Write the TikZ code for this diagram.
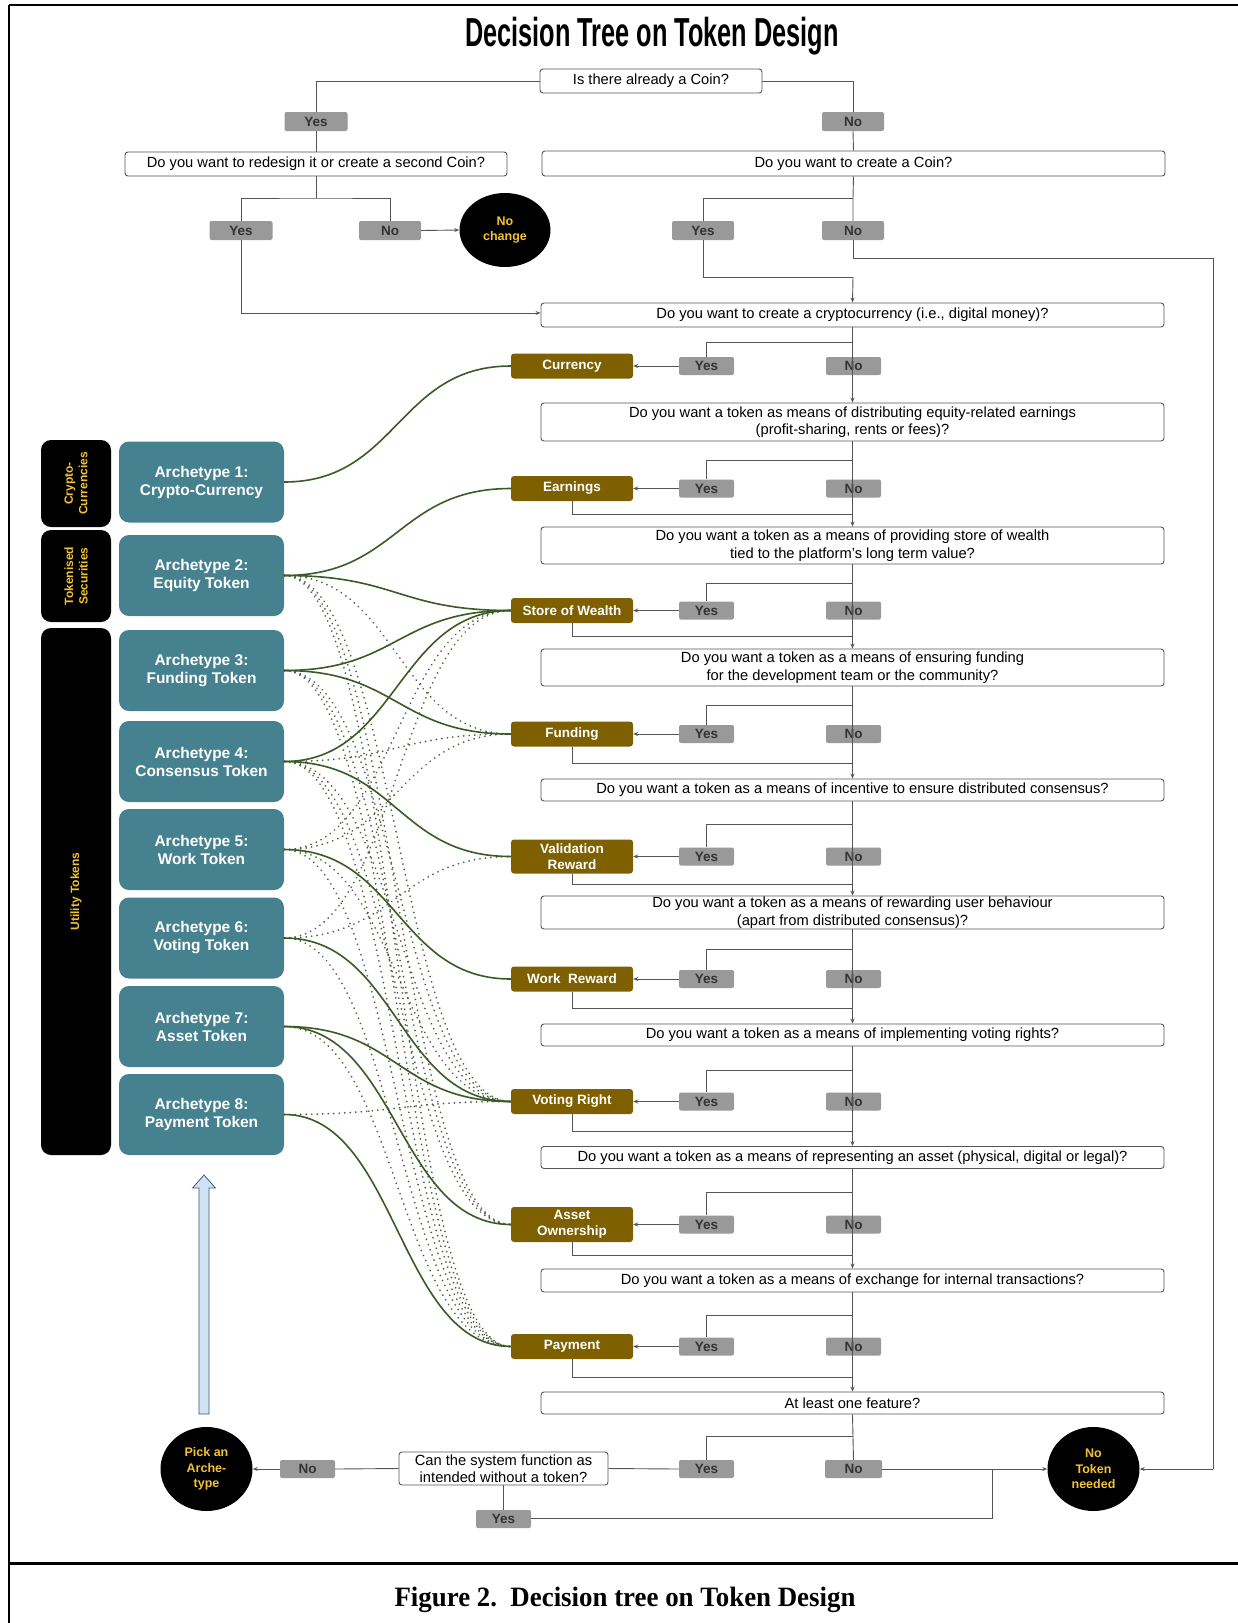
\documentclass[tikz,border=0pt]{standalone}
\usepackage{fontspec}
\setmainfont{Liberation Sans}
\newfontfamily\captionserif{Liberation Serif}
\usetikzlibrary{shapes.geometric,arrows.meta}
\definecolor{qline}{HTML}{555555}
\definecolor{ynfill}{HTML}{999999}
\definecolor{yntext}{HTML}{333333}
\definecolor{featfill}{HTML}{7F6000}
\definecolor{archfill}{HTML}{45818E}
\definecolor{gold}{HTML}{F1C232}
\definecolor{conn}{HTML}{3A5C24}
\definecolor{dotc}{HTML}{4C5A42}
\definecolor{bluefill}{HTML}{CFE2F3}
\definecolor{blueline}{HTML}{3D5A73}
\begin{document}
\begin{tikzpicture}[x=1pt,y=-1pt,
 qbox/.style={draw=qline, line width=0.9pt, rounded corners=3pt, fill=white, minimum width=623pt, minimum height=23pt, inner sep=0pt, align=center, font=\fontsize{14.7}{17.5}\selectfont},
 yn/.style={fill=ynfill, rounded corners=2pt, minimum width=55pt, minimum height=18pt, inner sep=0pt, font=\fontsize{13.5}{14}\selectfont\bfseries, text=yntext},
 feat/.style={fill=featfill, rounded corners=3pt, minimum width=122pt, minimum height=25pt, inner sep=0pt, align=center, text=white, font=\fontsize{13.5}{16}\selectfont\bfseries},
 arch/.style={fill=archfill, rounded corners=10pt, minimum width=165pt, minimum height=81pt, inner sep=0pt, align=center, text=white, font=\fontsize{15.5}{18}\selectfont\bfseries},
 cat/.style={fill=black, rounded corners=10pt, rotate=90, minimum height=70pt, inner sep=0pt, align=center, text=gold, font=\fontsize{12}{14.5}\selectfont\bfseries},
 term/.style={ellipse, fill=black, inner sep=0pt, align=center, text=gold, font=\fontsize{12.5}{15.5}\selectfont\bfseries},
 ln/.style={draw=qline, line width=0.9pt},
 arr/.style={ln, -{Stealth[length=5pt,width=4pt]}},
 mainc/.style={draw=conn, line width=1.6pt},
 minorc/.style={draw=dotc, line width=1.9pt, line cap=round, dash pattern=on 0.01pt off 5.5pt}
]
\useasboundingbox (0,0) rectangle (1238,1623);
\fill[white] (0,0) rectangle (1238,1623);
% frame
\draw[line width=1.5pt] (9,5) -- (1238,5);
\draw[line width=1.5pt] (9,5) -- (9,1623);
\draw[line width=3pt] (9,1563) -- (1238,1563);
% title and caption
\node[anchor=base, inner sep=0pt] (title) at (652,46) {\scalebox{0.625}[1]{\bfseries\fontsize{40.5}{40}\selectfont Decision Tree on Token Design}};
\node[anchor=base, inner sep=0pt] (caption) at (625,1606) {\scalebox{0.96}[1]{\captionserif\bfseries\fontsize{28}{28}\selectfont Figure 2.\ \ Decision tree on Token Design}};

% ---------- top part ----------
\node[qbox, minimum width=222pt, minimum height=24pt] (q0) at (651,81) {Is there already a Coin?};
\node[yn, minimum width=63pt, minimum height=19pt] (y0) at (316,121.5) {Yes};
\node[yn, minimum width=62pt, minimum height=19pt] (n0) at (853,121.5) {No};
\node[qbox, minimum width=382pt, minimum height=24pt] (qa) at (316,164) {Do you want to redesign it or create a second Coin?};
\node[qbox, minimum width=623pt, minimum height=25pt] (qb) at (853.5,163.5) {Do you want to create a Coin?};
\node[yn, minimum width=63pt, minimum height=19pt] (ya) at (241,230.5) {Yes};
\node[yn, minimum width=62pt, minimum height=19pt] (na) at (390,230.5) {No};
\node[term, minimum width=91pt, minimum height=74pt] (nochange) at (505,230) {No\\change};
\node[yn, minimum width=62pt, minimum height=19pt] (yb) at (703,230.5) {Yes};
\node[yn, minimum width=62pt, minimum height=19pt] (nb) at (853,230.5) {No};

\coordinate (t0l) at (316,81);
\coordinate (t0r) at (853,81);
\draw[ln] (q0.west) -- (t0l) -- (y0.north);
\draw[ln] (q0.east) -- (t0r) -- (n0.north);
\draw[ln] (y0.south) -- (qa.north);
\draw[ln] (n0.south) -- (qb.north);
\coordinate (ja) at (316,198);
\draw[ln] (qa.south) -- (ja);
\draw[ln] (ya.north) |- (ja) -| (na.north);
\draw[arr] (na.east) -- (nochange.west);
\coordinate (jb) at (853,198);
\draw[ln] (qb.south) -- (jb) -- (nb.north);
\draw[ln] (jb) -| (yb.north);

% ---------- main column ----------
\node[qbox, minimum height=24pt] (q1) at (852.5,315) {Do you want to create a cryptocurrency (i.e., digital money)?};
\node[qbox, minimum height=38pt] (q2) at (852.5,422) {Do you want a token as means of distributing equity-related earnings\\(profit-sharing, rents or fees)?};
\node[qbox, minimum height=37pt] (q3) at (852.5,545.5) {Do you want a token as a means of providing store of wealth\\tied to the platform’s long term value?};
\node[qbox, minimum height=37pt] (q4) at (852.5,667.5) {Do you want a token as a means of ensuring funding\\for the development team or the community?};
\node[qbox, minimum height=22pt] (q5) at (852.5,790) {Do you want a token as a means of incentive to ensure distributed consensus?};
\node[qbox, minimum height=33pt] (q6) at (852.5,912.5) {Do you want a token as a means of rewarding user behaviour\\(apart from distributed consensus)?};
\node[qbox, minimum height=22pt] (q7) at (852.5,1035) {Do you want a token as a means of implementing voting rights?};
\node[qbox, minimum height=22pt] (q8) at (852.5,1157.5) {Do you want a token as a means of representing an asset (physical, digital or legal)?};
\node[qbox, minimum height=23pt] (q9) at (852.5,1280.5) {Do you want a token as a means of exchange for internal transactions?};
\node[qbox, minimum height=22pt] (q10) at (852.5,1403) {At least one feature?};

% from the top decisions into q1
\coordinate (nbturn) at (853,258);
\coordinate (rightedge) at (1213,258);
\coordinate (ybturn) at (703,277);
\coordinate (ybjoin) at (853,277);
\coordinate (yaturn) at (241,313);
\draw[ln] (nb.south) -- (nbturn) -- (rightedge);
\draw[ln] (yb.south) -- (ybturn) -- (ybjoin);
\draw[arr] (ybjoin) -- (q1.north);
\draw[ln] (ya.south) -- (yaturn);
\draw[arr] (yaturn) -- (q1.west |- yaturn);

% feature rows
\foreach \i/\lab/\fy/\fh/\by in {
 1/Currency/366/25/342,
 2/Earnings/488.5/25/460,
 3/Store of Wealth/610.5/25/583,
 4/Funding/734/25/705,
 5/{Validation\\Reward}/856.5/34/824,
 6/Work\ \ Reward/979/25/949,
 7/Voting Right/1101.5/25/1070,
 8/{Asset\\Ownership}/1224.5/35/1192,
 9/Payment/1346.5/25/1315}{
 \node[feat, minimum height=\fh pt] (f\i) at (572,\fy) {\lab};
 \node[yn] (y\i) at (706.5,\fy) {Yes};
 \node[yn] (n\i) at (853.5,\fy) {No};
 \coordinate (b\i) at (853,\by);
 \draw[ln] (b\i) -| (y\i.north);
 \draw[arr] (y\i.west) -- (f\i.east);
}
\foreach \i/\ry in {2/514,3/636,4/763,5/884,6/1008,7/1131,8/1255,9/1377}{
 \coordinate (r\i) at (853,\ry);
 \draw[ln] (f\i.south) |- (r\i);
}
\foreach \a/\b in {1/2,2/3,3/4,4/5,5/6,6/7,7/8,8/9,9/10}{
 \draw[arr] (q\a.south) -- (q\b.north);
}

% ---------- bottom part ----------
\node[yn] (yf) at (706.5,1469) {Yes};
\node[yn, minimum width=57pt] (nf) at (853.5,1469) {No};
\node[qbox, minimum width=209pt, minimum height=33pt] (can) at (503.5,1468.5) {Can the system function as\\intended without a token?};
\node[yn] (nl) at (307.5,1469) {No};
\node[yn] (yl) at (503.5,1519) {Yes};
\node[term, minimum width=92pt, minimum height=84pt] (pick) at (206.5,1469) {Pick an\\Arche-\\type};
\node[term, minimum width=92pt, minimum height=84pt] (notoken) at (1093.5,1469) {No\\Token\\needed};
\coordinate (bf) at (853,1436);
\draw[ln] (q10.south) -- (nf.north);
\draw[ln] (bf) -| (yf.north);
\draw[ln] (yf.west) -- (can.east);
\draw[ln] (can.west) -- (nl.east);
\draw[arr] (nl.west) -- (pick.east);
\draw[arr] (nf.east) -- (notoken.west);
\draw[ln] (can.south) -- (yl.north);
\coordinate (ylturn) at (992,1518);
\coordinate (yljoin) at (992,1469);
\draw[ln] (yl.east |- ylturn) -- (ylturn) -- (yljoin);
\coordinate (rightlow) at (1213,1469);
\draw[ln] (rightedge) -- (rightlow);
\draw[arr] (rightlow) -- (notoken.east);

% blue arrow up to the archetypes
\draw[blueline, fill=bluefill, line width=0.8pt] (199,1414) -- (199,1188) -- (192.5,1188) -- (204,1175) -- (215.5,1188) -- (209,1188) -- (209,1414) -- cycle;

% ---------- categories and archetypes ----------
\node[cat, minimum width=87pt] (c1) at (76,483.5) {Crypto-\\Currencies};
\node[cat, minimum width=92pt] (c2) at (76,576) {Tokenised\\Securities};
\node[cat, minimum width=527pt] (c3) at (76,891.5) {Utility Tokens};

\node[arch] (a1) at (201.5,482) {Archetype 1:\\Crypto-Currency};
\node[arch] (a2) at (201.5,575.5) {Archetype 2:\\Equity Token};
\node[arch] (a3) at (201.5,670.5) {Archetype 3:\\Funding Token};
\node[arch] (a4) at (201.5,761.5) {Archetype 4:\\Consensus Token};
\node[arch] (a5) at (201.5,849.5) {Archetype 5:\\Work Token};
\node[arch] (a6) at (201.5,938) {Archetype 6:\\Voting Token};
\node[arch] (a7) at (201.5,1026.5) {Archetype 7:\\Asset Token};
\node[arch] (a8) at (201.5,1114.5) {Archetype 8:\\Payment Token};

% possible features (dotted)
\foreach \a/\f in {2/4,2/7,2/8,2/9, 3/7,3/8,3/9, 4/4,4/7,4/8,4/9, 5/3,5/4,5/7,5/9, 6/3,6/5,6/9, 7/9, 8/7}{
 \draw[minorc] (a\a.east) .. controls +(113,0) and +(-113,0) .. (f\f.west);
}
% main features (solid)
\foreach \a/\f in {1/1, 2/2,2/3, 3/3,3/4, 4/3,4/5, 5/6, 6/7, 7/7,7/8, 8/9}{
 \draw[mainc] (a\a.east) .. controls +(113,0) and +(-113,0) .. (f\f.west);
}
\end{tikzpicture}
\end{document}
